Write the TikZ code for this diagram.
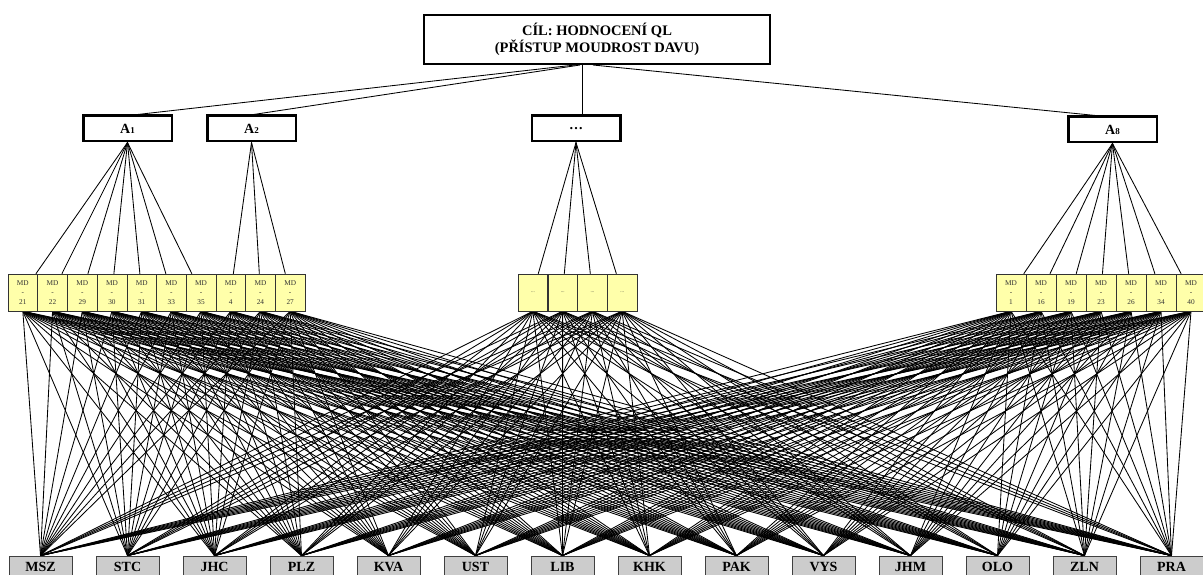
\documentclass[tikz,border=0pt]{standalone}
\usepackage{fontspec}
\setmainfont{Liberation Serif}
\definecolor{mdyellow}{HTML}{FFFFAA}
\definecolor{reggray}{HTML}{CCCCCC}
\pgfdeclarelayer{bg}
\pgfdeclarelayer{edges}
\pgfsetlayers{bg,edges,main}
\begin{document}
\begin{tikzpicture}[x=1pt,y=-1pt,
  goal/.style={draw, line width=2pt, fill=white, minimum width=346pt, minimum height=49pt, inner sep=0pt, align=center, font=\bfseries\fontsize{14.5}{17.5}\selectfont},
  abox/.style={draw, line width=2.5pt, fill=white, minimum width=88.5pt, minimum height=25.5pt, inner sep=0pt, font=\bfseries\fontsize{14}{16}\selectfont},
  mdbox/.style={draw=black!80, line width=0.5pt, fill=mdyellow, minimum width=29.7pt, minimum height=37pt, inner sep=0pt, align=center, text=black!80, font=\fontsize{7.3}{9.5}\selectfont},
  regbox/.style={draw=black!75, line width=0.8pt, fill=reggray, minimum width=63pt, minimum height=22pt, inner sep=0pt, font=\bfseries\fontsize{14}{16}\selectfont},
  edge/.style={line width=0.85pt}]
\useasboundingbox (0,0) rectangle (1203,575);
\clip (0,0) rectangle (1203,575);
\begin{pgfonlayer}{bg}
\fill[white] (0,0) rectangle (1203,575);
\end{pgfonlayer}

% goal
\node[goal] (goal) at (597,39.5) {CÍL: HODNOCENÍ QL\\(PŘÍSTUP MOUDROST DAVU)};

% level A
\node[abox] (A1) at (127.5,128.5) {A{\fontsize{9}{10}\selectfont 1}};
\node[abox] (A2) at (251.5,128.5) {A{\fontsize{9}{10}\selectfont 2}};
\node[abox] (Ad) at (576,128.5) {\dots};
\node[abox] (A8) at (1112.5,129.5) {A{\fontsize{9}{10}\selectfont 8}};

% MD boxes
\foreach \i/\lab in {1/21,2/22,3/29,4/30,5/31,6/33,7/35,8/4,9/24,10/27}
  \node[mdbox] (L\i) at ({8+29.7*(\i-0.5)},292.5) {MD\\-\\\lab};
\foreach \i in {1,...,4}
  \node[mdbox] (M\i) at ({518+29.75*(\i-0.5)},292.5) {\fontsize{5}{6}\selectfont...};
\foreach \i/\lab in {1/1,2/16,3/19,4/23,5/26,6/34,7/40}
  \node[mdbox, minimum width=30pt] (R\i) at ({996+30*(\i-0.5)},292.5) {MD\\-\\\lab};

% regions
\foreach \i/\lab in {1/MSZ,2/STC,3/JHC,4/PLZ,5/KVA,6/UST,7/LIB,8/KHK,9/PAK,10/VYS,11/JHM,12/OLO,13/ZLN,14/PRA}
  \node[regbox] (r\i) at ({40.5+87*(\i-1)},567) {\lab};

\begin{pgfonlayer}{edges}
% goal -> A
\draw[edge] ([xshift=-22pt]goal.south) -- ([xshift=10pt]A1.north);
\draw[edge] ([xshift=-17pt]goal.south) -- ([xshift=2pt]A2.north);
\draw[edge] ([xshift=-15pt]goal.south) -- ([xshift=6pt]Ad.north);
\draw[edge] ([xshift=-4pt]goal.south) -- ([xshift=-17pt]A8.north);

% A -> MD
\foreach \i in {1,...,7} \draw[edge] (A1.south) -- (L\i);
\foreach \i in {8,9,10} \draw[edge] (A2.south) -- (L\i);
\foreach \i in {1,...,4} \draw[edge] (Ad.south) -- (M\i);
\foreach \i in {1,...,7} \draw[edge] (A8.south) -- (R\i);

% MD -> regions
\foreach \m in {L1,L2,L3,L4,L5,L6,L7,L8,L9,L10,M1,M2,M3,M4,R1,R2,R3,R4,R5,R6,R7}
  \foreach \r in {1,...,14}
    \draw[edge] (\m.south) -- (r\r.north);
\end{pgfonlayer}
\end{tikzpicture}
\end{document}
